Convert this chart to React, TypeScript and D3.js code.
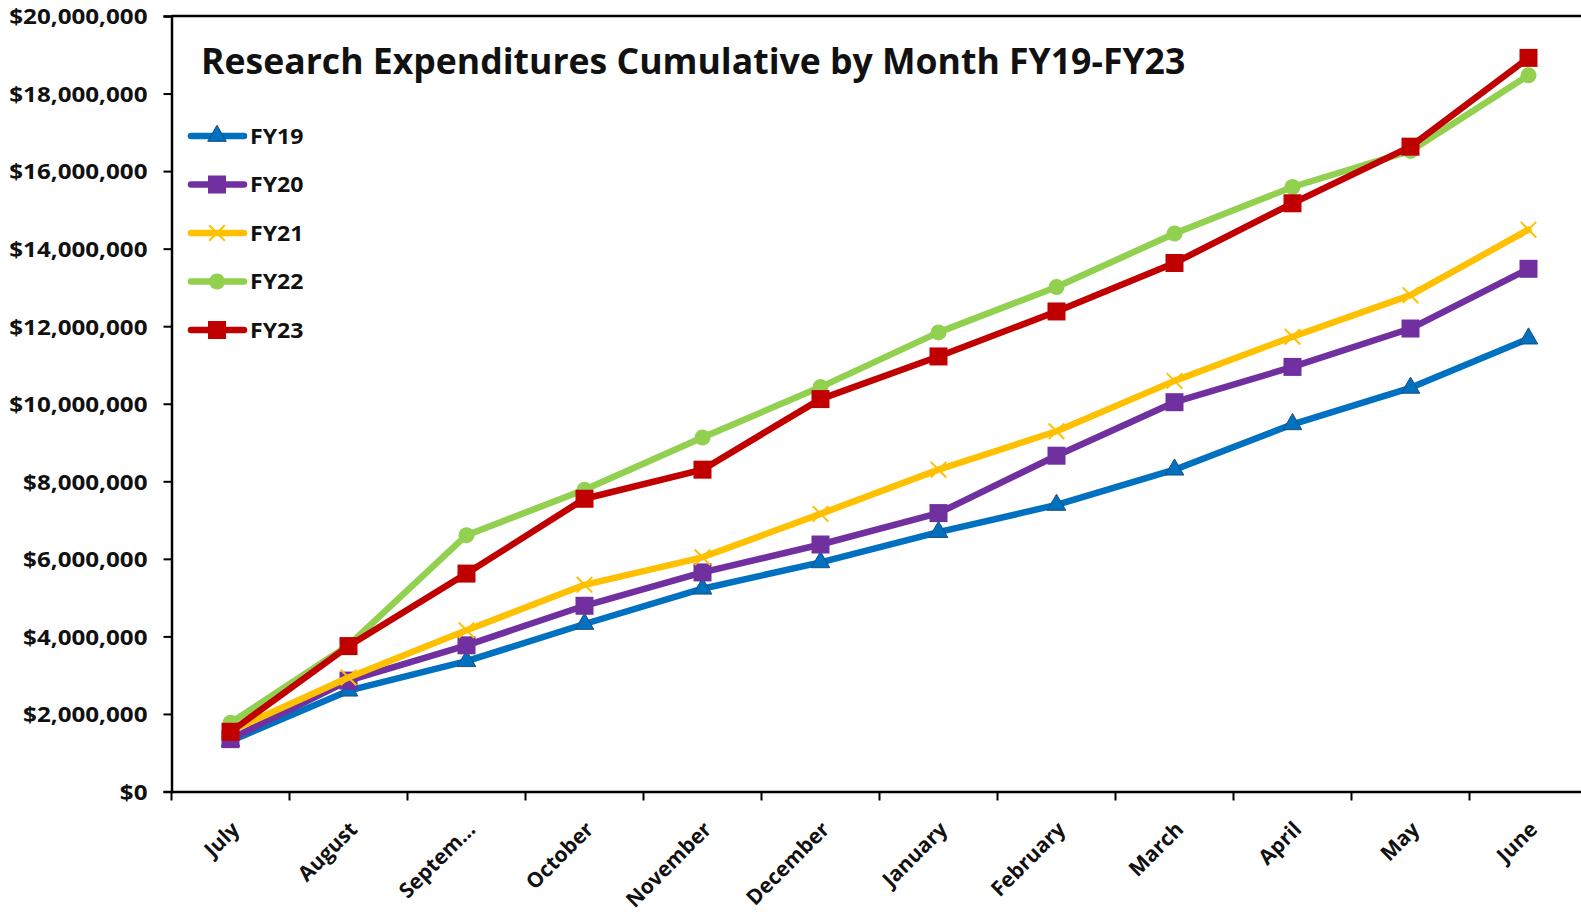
import React, { useEffect, useRef } from 'react';
import * as d3 from 'd3';

const months = ['July', 'August', 'Septem…', 'October', 'November', 'December', 'January', 'February', 'March', 'April', 'May', 'June'];

// cumulative expenditures, in millions of dollars
const fy19 = [1.30, 2.60, 3.36, 4.32, 5.23, 5.91, 6.69, 7.39, 8.30, 9.47, 10.41, 11.68];
const fy20 = [1.35, 2.86, 3.77, 4.79, 5.65, 6.37, 7.18, 8.66, 10.04, 10.95, 11.94, 13.48];
const fy21 = [1.56, 2.94, 4.16, 5.33, 6.04, 7.16, 8.30, 9.29, 10.59, 11.73, 12.80, 14.49];
const fy22 = [1.77, 3.77, 6.61, 7.78, 9.13, 10.43, 11.84, 13.01, 14.39, 15.59, 16.52, 18.47];
const fy23 = [1.54, 3.75, 5.62, 7.55, 8.30, 10.12, 11.22, 12.38, 13.63, 15.17, 16.63, 18.92];

const seriesNames = ['FY19', 'FY20', 'FY21', 'FY22', 'FY23'];
const yTicks = [0, 2, 4, 6, 8, 10, 12, 14, 16, 18, 20];

const title = 'Research Expenditures Cumulative by Month FY19-FY23';

const App = () => {
  const svgRef = useRef(null);

  useEffect(() => {
    const width = 1581;
    const height = 912;
    const left = 171.5;
    const top = 16;
    const bottom = 791.5;
    const right = 1587.5;
    const font = '"Open Sans", Lato, sans-serif';

    const series = [
      { name: 'FY19', values: fy19, color: '#0070C0', shape: 'triangle' },
      { name: 'FY20', values: fy20, color: '#7030A0', shape: 'square' },
      { name: 'FY21', values: fy21, color: '#FFC000', shape: 'x' },
      { name: 'FY22', values: fy22, color: '#92D050', shape: 'circle' },
      { name: 'FY23', values: fy23, color: '#C00000', shape: 'square' },
    ];

    const svg = d3.select(svgRef.current)
      .attr('width', width)
      .attr('height', height);

    svg.selectAll('*').remove();

    svg.append('rect').attr('width', width).attr('height', height).attr('fill', '#fff');

    const xScale = d3.scaleBand()
      .domain(months)
      .range([left, right]);

    const yScale = d3.scaleLinear()
      .domain([0, 20])
      .range([bottom, top]);

    // frame: top border
    svg.append('line')
      .attr('x1', left).attr('x2', width)
      .attr('y1', top).attr('y2', top)
      .attr('stroke', '#000').attr('stroke-width', 2.5);

    // y axis
    const yAxis = svg.append('g')
      .attr('transform', `translate(${left},0)`)
      .call(d3.axisLeft(yScale).tickValues(yTicks).tickSize(8).tickFormat(() => ''));
    yAxis.select('.domain').attr('stroke', '#000').attr('stroke-width', 2.5);
    yAxis.selectAll('.tick line').attr('stroke', '#000').attr('stroke-width', 2);

    // y labels, a little wider than the font
    svg.append('g').selectAll('text')
      .data(yTicks)
      .enter()
      .append('text')
      .attr('transform', d => `translate(${left - 24},${yScale(d)}) scale(1.1,1)`)
      .attr('text-anchor', 'end')
      .attr('dy', '0.38em')
      .attr('font-family', font).attr('font-weight', 'bold').attr('font-size', 22)
      .attr('fill', '#111')
      .text(d => '$' + d3.format(',')(d * 1000000));

    // x axis
    const xAxis = svg.append('g')
      .attr('transform', `translate(0,${bottom})`)
      .call(d3.axisBottom(xScale).tickSize(0).tickFormat(() => ''));
    xAxis.select('.domain').attr('stroke', '#000').attr('stroke-width', 2.5);
    xAxis.selectAll('.tick').remove();

    // tick marks between categories
    const boundaries = months.map(m => xScale(m)).concat([right]);
    svg.append('g').selectAll('line')
      .data(boundaries)
      .enter()
      .append('line')
      .attr('x1', d => d).attr('x2', d => d)
      .attr('y1', bottom).attr('y2', bottom + 9)
      .attr('stroke', '#000').attr('stroke-width', 2);

    svg.append('g').selectAll('text')
      .data(months)
      .enter()
      .append('text')
      .attr('transform', d => `translate(${xScale(d) + xScale.bandwidth() / 2 + 5},${bottom + 34}) rotate(-45)`)
      .attr('text-anchor', 'end')
      .attr('dy', '0.35em')
      .attr('font-family', font).attr('font-weight', 'bold').attr('font-size', 21)
      .attr('fill', '#111')
      .text(d => d);

    const cx = (i) => xScale(months[i]) + xScale.bandwidth() / 2;

    const line = d3.line()
      .x((d, i) => cx(i))
      .y(d => yScale(d));

    const drawMarker = (g, shape, color, x, y) => {
      if (shape === 'square') {
        g.append('rect')
          .attr('x', x - 9).attr('y', y - 9).attr('width', 18).attr('height', 18)
          .attr('fill', color);
      } else if (shape === 'circle') {
        g.append('circle').attr('cx', x).attr('cy', y).attr('r', 8).attr('fill', color);
      } else if (shape === 'triangle') {
        g.append('path')
          .attr('d', d3.symbol().type(d3.symbolTriangle).size(150)())
          .attr('transform', `translate(${x},${y})`)
          .attr('fill', color).attr('stroke', '#1f4e79').attr('stroke-width', 1);
      } else {
        g.append('path')
          .attr('d', d3.symbol().type(d3.symbolX).size(160)())
          .attr('transform', `translate(${x},${y})`)
          .attr('fill', 'none').attr('stroke', color).attr('stroke-width', 2);
      }
    };

    series.forEach(s => {
      const g = svg.append('g');
      g.append('path')
        .datum(s.values)
        .attr('d', line)
        .attr('fill', 'none')
        .attr('stroke', s.color)
        .attr('stroke-width', 6.5)
        .attr('stroke-linejoin', 'round')
        .attr('stroke-linecap', 'round');
      s.values.forEach((v, i) => drawMarker(g, s.shape, s.color, cx(i), yScale(v)));
    });

    // title
    svg.append('text')
      .attr('x', 201)
      .attr('y', 74)
      .attr('font-family', font).attr('font-weight', 'bold').attr('font-size', 35.6)
      .attr('fill', '#111')
      .text(title);

    // legend
    const legend = svg.append('g');
    series.forEach((s, i) => {
      const y = 136 + i * 48.5;
      const g = legend.append('g');
      g.append('line')
        .attr('x1', 191).attr('x2', 244).attr('y1', y).attr('y2', y)
        .attr('stroke', s.color).attr('stroke-width', 6.5).attr('stroke-linecap', 'round');
      drawMarker(g, s.shape, s.color, 217, y);
      g.append('text')
        .attr('transform', `translate(250,${y}) scale(1.05,1)`)
        .attr('dy', '0.36em')
        .attr('font-family', font).attr('font-weight', 'bold').attr('font-size', 22)
        .attr('fill', '#111')
        .text(seriesNames[i]);
    });
  }, []);

  return (
    <div>
      <svg ref={svgRef} width={1581} height={912} style={{ position: 'absolute', left: 0, top: 0 }}></svg>
    </div>
  );
};

export default App;
